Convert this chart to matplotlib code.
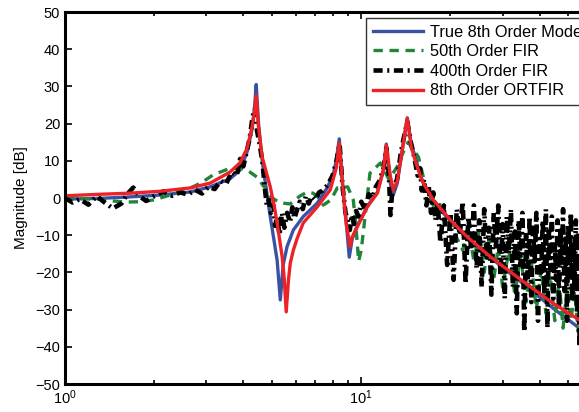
import matplotlib
matplotlib.use('Agg')
import matplotlib.pyplot as plt
from matplotlib.ticker import LogLocator, NullFormatter

plt.rcParams['font.family'] = ['Liberation Sans', 'DejaVu Sans']
plt.rcParams['mathtext.fontset'] = 'custom'
plt.rcParams['mathtext.rm'] = 'Liberation Sans'

# true 8th order model
f_true = [1.0, 1.31, 1.66, 2.09, 2.64, 3.09, 3.61, 3.90, 4.12, 4.28, 4.36, 4.42, 4.50, 4.63,
          4.93, 5.20, 5.33, 5.45, 5.62, 5.90, 6.37, 7.10, 7.68, 8.04, 8.23, 8.43, 8.70,
          8.90, 9.11, 9.32, 9.69, 10.48, 11.33, 11.87, 12.15, 12.53, 12.82, 13.23, 13.87,
          14.30, 14.75, 15.22, 15.83, 16.2, 17.51, 19.98, 22.81, 27.29, 33.92, 44.2, 54.5, 62.7]
db_true = [-0.3, -0.1, 0.3, 0.8, 1.6, 3.0, 5.2, 7.5, 12.5, 18.5, 24.0, 30.5, 20.0, 10.0,
           -5.0, -16.7, -27.4, -18.0, -13.0, -8.6, -5.0, -1.4, 2.8, 6.2, 10.0, 15.9, 1.0,
           -6.5, -15.9, -11.0, -7.5, -2.2, 1.5, 7.5, 14.5, 4.0, 0.8, 4.0, 14.8,
           21.5, 14.5, 11.0, 6.0, 4.0, -1.0, -6.2, -11.0, -16.0, -22.0, -29.5, -35.0, -38.0]

# 50th order FIR
f_fir50 = [1.0, 1.15, 1.31, 1.45, 1.6, 1.8, 2.0, 2.2, 2.58, 2.9, 3.16, 3.61, 3.9, 4.12,
           4.45, 4.75, 5.0, 5.33, 5.76, 6.2, 6.57, 6.88, 7.2, 7.45, 7.9, 8.3, 9.0, 9.4,
           9.6, 9.8, 10.0, 10.3, 10.7, 11.6, 12.4, 13.2, 13.8, 14.4, 15.0, 15.6, 16.7,
           17.5, 18.3, 19.2, 20.0, 20.8, 22.0, 23.0, 24.0, 25.0, 26.0, 27.0, 28.0, 29.0,
           30.0, 31.5, 33.0, 34.5, 36.0, 37.5, 39.0, 40.5, 42.0, 43.5, 45.0, 46.5, 48.0,
           49.5, 51.0, 52.5, 54.0, 55.5, 57.0, 58.5, 60.0, 62.0]
db_fir50 = [0.3, -0.2, -0.3, -0.8, -1.1, -1.0, -0.5, 0.5, 2.2, 4.2, 6.2, 8.0, 8.0, 7.5,
            5.6, 2.5, 0.0, -1.3, -1.6, 0.5, 1.6, 1.3, 0.0, -1.9, -0.5, 2.7, 3.0, -0.5,
            -8.0, -17.0, -14.0, -5.0, 6.7, 9.4, 5.0, 8.3, 12.0, 15.0, 13.0, 11.0, 1.3,
            -2.0, -1.0, -7.0, -5.0, -10.0, -14.0, -8.0, -17.0, -9.0, -20.0, -11.0, -22.0, -13.0,
            -24.0, -14.0, -26.0, -15.0, -28.0, -17.0, -30.0, -19.0, -31.0, -21.0, -33.0, -22.0, -35.0,
            -24.0, -33.0, -25.0, -36.0, -26.0, -37.0, -28.0, -38.0, -31.0]

# 400th order FIR
f_fir400 = [1.0, 1.06, 1.12, 1.2, 1.28, 1.35, 1.45, 1.55, 1.62, 1.7, 1.78, 1.88, 2.0, 2.15,
            2.3, 2.45, 2.6, 2.75, 2.9, 3.05, 3.2, 3.35, 3.5, 3.65, 3.8, 3.9, 4.0, 4.12, 4.2,
            4.3, 4.38, 4.45, 4.55, 4.65, 4.72, 4.8, 4.88, 4.95, 5.05, 5.12, 5.2, 5.3, 5.4,
            5.5, 5.62, 5.75, 5.85, 5.95, 6.08, 6.2, 6.35, 6.5, 6.65, 6.8, 7.0, 7.2, 7.4, 7.7,
            8.0, 8.25, 8.45, 8.65, 8.85, 9.0, 9.15, 9.3, 9.45, 9.6, 9.8, 10.0, 10.3, 10.6,
            10.9, 11.2, 11.5, 11.9, 12.15, 12.4, 12.55, 12.7, 12.9, 13.2, 13.6, 13.9, 14.3,
            14.7, 15.1, 15.5, 15.8, 16.0, 16.3, 16.6, 16.9, 17.2, 17.5, 17.8, 18.1,
            18.5, 19.0, 19.5, 20.0, 20.5, 21.0, 21.5, 22.0, 22.5, 23.0, 23.5, 24.0, 24.5,
            25.0, 25.5, 26.0, 26.5, 27.0, 27.5, 28.0, 28.5, 29.0, 29.5, 30.0, 30.5, 31.0,
            31.5, 32.0, 32.5, 33.0, 33.5, 34.0, 34.5, 35.0, 35.5, 36.0, 36.5, 37.0, 37.5,
            38.0, 38.5, 39.0, 39.5, 40.0, 40.5, 41.0, 41.5, 42.0, 42.5, 43.0, 43.5, 44.0,
            44.5, 45.0, 45.5, 46.0, 46.5, 47.0, 47.5, 48.0, 48.5, 49.0, 49.5, 50.0, 50.5,
            51.0, 51.5, 52.0, 52.5, 53.0, 53.5, 54.0, 54.5, 55.0, 55.5, 56.0, 56.5, 57.0,
            57.5, 58.0, 58.5, 59.0, 59.5, 60.0, 60.5, 61.0, 61.5, 62.0]
db_fir400 = [0.0, -1.2, -0.3, -1.8, 0.5, -1.0, -2.8, -1.5, 1.0, 2.8, 0.5, -0.8, 0.5, 1.8,
             0.6, 1.5, 0.9, 2.2, 1.2, 3.0, 2.4, 4.6, 3.8, 7.0, 6.0, 10.5, 8.5, 13.0, 16.0,
             22.0, 24.0, 18.0, 14.0, 9.0, 3.0, -2.0, -0.5, -4.0, -2.0, -7.5, -5.0, -10.0, -4.0,
             -8.0, -4.0, -6.5, -2.5, -5.5, -3.0, -1.0, -3.0, 0.5, -1.5, 0.5, -0.5, 1.5, 2.0, 3.5,
             6.0, 10.0, 14.5, 3.0, -4.0, -6.0, -8.6, -4.5, -7.0, -3.5, -5.0, -1.0, -3.0, 1.0,
             0.0, 3.0, 4.5, 8.0, 13.5, 6.0, -4.6, 1.0, 3.0, 5.0, 12.0, 16.0, 20.5,
             15.0, 11.0, 6.0, 8.0, 2.0, 5.0, -2.0, 3.0, -4.0, 1.5, -6.0, -1.0,
             -12.0, -2.0, -18.0, -4.0, -22.0, -3.0, -10.0, -1.0, -23.0, -5.0, -14.0, -2.0, -19.0,
             -6.0, -24.0, -3.0, -16.0, -8.0, -26.0, -4.0, -13.0, -2.0, -21.0, -7.0, -27.0, -5.0,
             -15.0, -3.0, -24.0, -9.0, -31.0, -6.0, -18.0, -4.0, -36.0, -10.0, -22.0, -5.0, -28.0,
             -8.0, -17.0, -4.0, -33.0, -11.0, -20.0, -6.0, -26.0, -3.0, -35.0, -9.0, -19.0, -5.0,
             -27.0, -12.0, -22.0, -6.0, -30.0, -8.0, -18.0, -3.0, -25.0, -10.0, -33.0, -7.0, -21.0,
             -4.0, -28.0, -12.0, -24.0, -6.0, -31.0, -9.0, -40.0, -13.0, -22.0, -7.0, -35.0, -10.0,
             -26.0, -5.0, -38.0, -14.0, -24.0, -8.0, -30.0, -12.0, -36.0, -15.0]

# 8th order ORTFIR
f_ort = [1.0, 1.31, 1.66, 2.09, 2.64, 3.09, 3.61, 3.90, 4.12, 4.28, 4.36, 4.42, 4.50, 4.63,
         4.93, 5.08, 5.20, 5.41, 5.50, 5.58, 5.68, 5.76, 5.90, 6.08, 6.37, 7.10, 7.86, 8.23,
         8.43, 8.70, 8.90, 9.17, 9.32, 9.69, 10.48, 11.33, 11.87, 12.15, 12.53, 12.82, 13.23,
         13.87, 14.30, 14.75, 15.22, 15.83, 16.2, 17.51, 19.98, 22.81, 27.29, 33.92, 44.2,
         54.5, 62.7]
db_ort = [0.6, 1.0, 1.3, 1.8, 2.7, 4.0, 7.0, 9.5, 13.4, 19.1, 23.0, 27.5, 19.0, 11.0,
          3.0, -2.0, -6.7, -15.9, -22.0, -30.6, -22.0, -17.5, -14.0, -10.8, -6.7, -2.4, 2.2, 8.0,
          14.8, 1.3, -7.0, -13.0, -10.5, -7.8, -2.4, 1.3, 7.5, 14.2, 6.0, 2.2, 4.5,
          14.8, 21.5, 13.7, 10.0, 6.0, 4.0, -0.5, -5.9, -10.5, -15.8, -21.5, -28.2,
          -32.8, -35.5]

labels = ['True 8th Order Model', '50th Order FIR', '400th Order FIR', '8th Order ORTFIR']

fig = plt.figure(figsize=(5.79, 4.12), dpi=100)
ax = fig.add_axes([65 / 579, 28 / 412, 531 / 579, 372 / 412])

ax.semilogx(f_true, db_true, color='#3a52a3', lw=2.4, label=labels[0])
ax.semilogx(f_fir50, db_fir50, color='#22833a', lw=2.4, dashes=(2.8, 2.0), label=labels[1])
ax.semilogx(f_fir400, db_fir400, color='black', lw=3.3, dashes=(2.0, 1.0, 0.45, 1.0), label=labels[2])
ax.semilogx(f_ort, db_ort, color='#ec2227', lw=2.4, label=labels[3])

ax.set_xlim(1, 62)
ax.set_ylim(-50, 50)
ax.set_yticks(range(-50, 51, 10))
ax.xaxis.set_major_locator(LogLocator(base=10))
ax.xaxis.set_minor_locator(LogLocator(base=10, subs=range(2, 10)))
ax.xaxis.set_minor_formatter(NullFormatter())
ax.tick_params(which='both', direction='in', top=True, right=True, labelsize=10.5, width=1.2)
ax.tick_params(which='major', length=5)
ax.tick_params(which='minor', length=3)
for sp in ax.spines.values():
    sp.set_linewidth(2.2)
ax.set_ylabel('Magnitude [dB]', fontsize=11, labelpad=5)

leg = ax.legend(loc='upper left', bbox_to_anchor=(366 / 579, 1 - 18 / 412),
                bbox_transform=fig.transFigure, fontsize=11.8, frameon=True, fancybox=False,
                borderaxespad=0, borderpad=0.4, handlelength=3.1, labelspacing=0.28,
                handletextpad=0.4)
leg.get_frame().set_edgecolor('black')
leg.get_frame().set_linewidth(1.0)

fig.savefig('out.png', dpi=100)
